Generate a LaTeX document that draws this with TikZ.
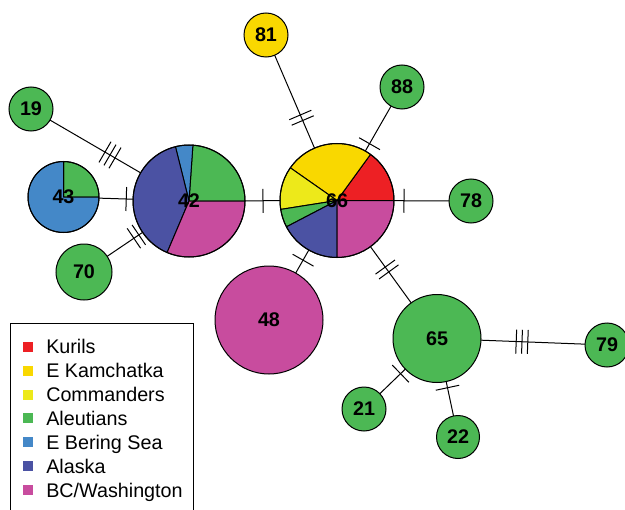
\documentclass[tikz,border=0pt]{standalone}
\usepackage{fontspec}
\setmainfont{Liberation Sans}
\usetikzlibrary{decorations.markings}
\pgfdeclarelayer{edges}
\pgfdeclarelayer{slices}
\pgfsetlayers{edges,slices,main}
\definecolor{cKur}{RGB}{237,32,36}
\definecolor{cEK}{RGB}{249,216,0}
\definecolor{cCom}{RGB}{237,233,26}
\definecolor{cAle}{RGB}{76,184,84}
\definecolor{cEBS}{RGB}{68,136,200}
\definecolor{cAla}{RGB}{75,82,163}
\definecolor{cBC}{RGB}{200,76,158}
\newcommand\pieslice[5]{%
  \filldraw[fill=#5, draw=black, line width=0.75pt, line join=round] (#1) -- ++(#3:#2) arc[start angle=#3, end angle=#4, radius=#2] -- cycle;}
\begin{document}
\begin{tikzpicture}[x=0.75pt,y=0.75pt, line width=0.75pt,
  hap/.style={circle, draw=black, line width=0.75pt, inner sep=0pt,
    font=\fontsize{14.8}{16}\selectfont\bfseries},
  edge/.style={draw=black, line width=0.75pt},
  tk1/.style={postaction={decorate, decoration={markings,
    mark=at position 0.5 with {\draw[line width=0.75pt] (0pt,-9pt) -- (0pt,9pt);}}}},
  tk2/.style={postaction={decorate, decoration={markings,
    mark=at position 0.5 with {\draw[line width=0.75pt] (-2.25pt,-9pt) -- (-2.25pt,9pt) (2.25pt,-9pt) -- (2.25pt,9pt);}}}},
  tk3/.style={postaction={decorate, decoration={markings,
    mark=at position 0.5 with {\draw[line width=0.75pt] (-4.35pt,-9pt) -- (-4.35pt,9pt) (0pt,-9pt) -- (0pt,9pt) (4.35pt,-9pt) -- (4.35pt,9pt);}}}},
  legsq/.style={rectangle, inner sep=0pt, minimum size=7.5pt},
  legtxt/.style={anchor=west, inner sep=0pt, text height=10.6pt, text depth=0pt,
    font=\fontsize{14.8}{16}\selectfont}
]
\useasboundingbox (0,0) rectangle (625,-510);

% haplotype nodes
\node[hap, fill=cAle, minimum size=33pt] (n19) at (31,-109) {19};
\node[hap, minimum size=53.25pt] (n43) at (63.5,-197) {43};
\node[hap, fill=cAle, minimum size=42pt] (n70) at (84,-272) {70};
\node[hap, minimum size=84pt] (n42) at (189,-201) {42};
\node[hap, minimum size=85.5pt] (n66) at (337,-200.5) {66};
\node[hap, fill=cEK, minimum size=33pt] (n81) at (266,-35) {81};
\node[hap, fill=cAle, minimum size=33pt] (n88) at (402,-87) {88};
\node[hap, fill=cAle, minimum size=33pt] (n78) at (471,-201) {78};
\node[hap, fill=cBC, minimum size=81pt] (n48) at (269,-320) {48};
\node[hap, fill=cAle, minimum size=66pt] (n65) at (437,-338.5) {65};
\node[hap, fill=cAle, minimum size=33pt] (n79) at (607,-345) {79};
\node[hap, fill=cAle, minimum size=33pt] (n21) at (364,-409) {21};
\node[hap, fill=cAle, minimum size=32.25pt] (n22) at (458,-437) {22};

% pie slices
\begin{pgfonlayer}{slices}
\pieslice{n43.center}{26.6pt}{0}{90}{cAle}
\pieslice{n43.center}{26.6pt}{90}{360}{cEBS}
\pieslice{n42.center}{42pt}{0}{86}{cAle}
\pieslice{n42.center}{42pt}{86}{104}{cEBS}
\pieslice{n42.center}{42pt}{104}{247}{cAla}
\pieslice{n42.center}{42pt}{247}{360}{cBC}
\pieslice{n66.center}{42.75pt}{0}{54}{cKur}
\pieslice{n66.center}{42.75pt}{54}{145}{cEK}
\pieslice{n66.center}{42.75pt}{145}{189}{cCom}
\pieslice{n66.center}{42.75pt}{189}{207.5}{cAle}
\pieslice{n66.center}{42.75pt}{207.5}{270}{cAla}
\pieslice{n66.center}{42.75pt}{270}{360}{cBC}
\end{pgfonlayer}

% connectors
\begin{pgfonlayer}{edges}
\draw[edge, tk3] (n19.center) -- (n42.center);
\draw[edge, tk1] (n43.center) -- (n42.center);
\draw[edge, tk2] (n70.center) -- (n42.center);
\draw[edge, tk1] (n42.center) -- (n66.center);
\draw[edge, tk2] (n81.center) -- (n66.center);
\draw[edge, tk1] (n88.center) -- (n66.center);
\draw[edge, tk1] (n66.center) -- (n78.center);
\draw[edge, tk1] (n66.center) -- (n48.center);
\draw[edge, tk2] (n66.center) -- (n65.center);
\draw[edge, tk3] (n65.center) -- (n79.center);
\draw[edge, tk1] (n65.center) -- (n21.center);
\draw[edge, tk1] (n65.center) -- (n22.center);
\end{pgfonlayer}

% legend
\node[draw=black, line width=0.75pt, fill=white, anchor=north west, inner sep=0pt,
  minimum width=137.25pt, minimum height=147.75pt] (leg) at (10,-323) {};
\node[legsq, fill=cKur] (s1) at (28,-346.7) {};
\node[legtxt] (t1) at (46,-346.7) {Kurils};
\node[legsq, fill=cEK] (s2) at (28,-370.6) {};
\node[legtxt] (t2) at (46,-370.6) {E Kamchatka};
\node[legsq, fill=cCom] (s3) at (28,-394.5) {};
\node[legtxt] (t3) at (46,-394.5) {Commanders};
\node[legsq, fill=cAle] (s4) at (28,-418.4) {};
\node[legtxt] (t4) at (46,-418.4) {Aleutians};
\node[legsq, fill=cEBS] (s5) at (28,-442.3) {};
\node[legtxt] (t5) at (46,-442.3) {E Bering Sea};
\node[legsq, fill=cAla] (s6) at (28,-466.2) {};
\node[legtxt] (t6) at (46,-466.2) {Alaska};
\node[legsq, fill=cBC] (s7) at (28,-490.1) {};
\node[legtxt] (t7) at (46,-490.1) {BC/Washington};
\end{tikzpicture}
\end{document}
